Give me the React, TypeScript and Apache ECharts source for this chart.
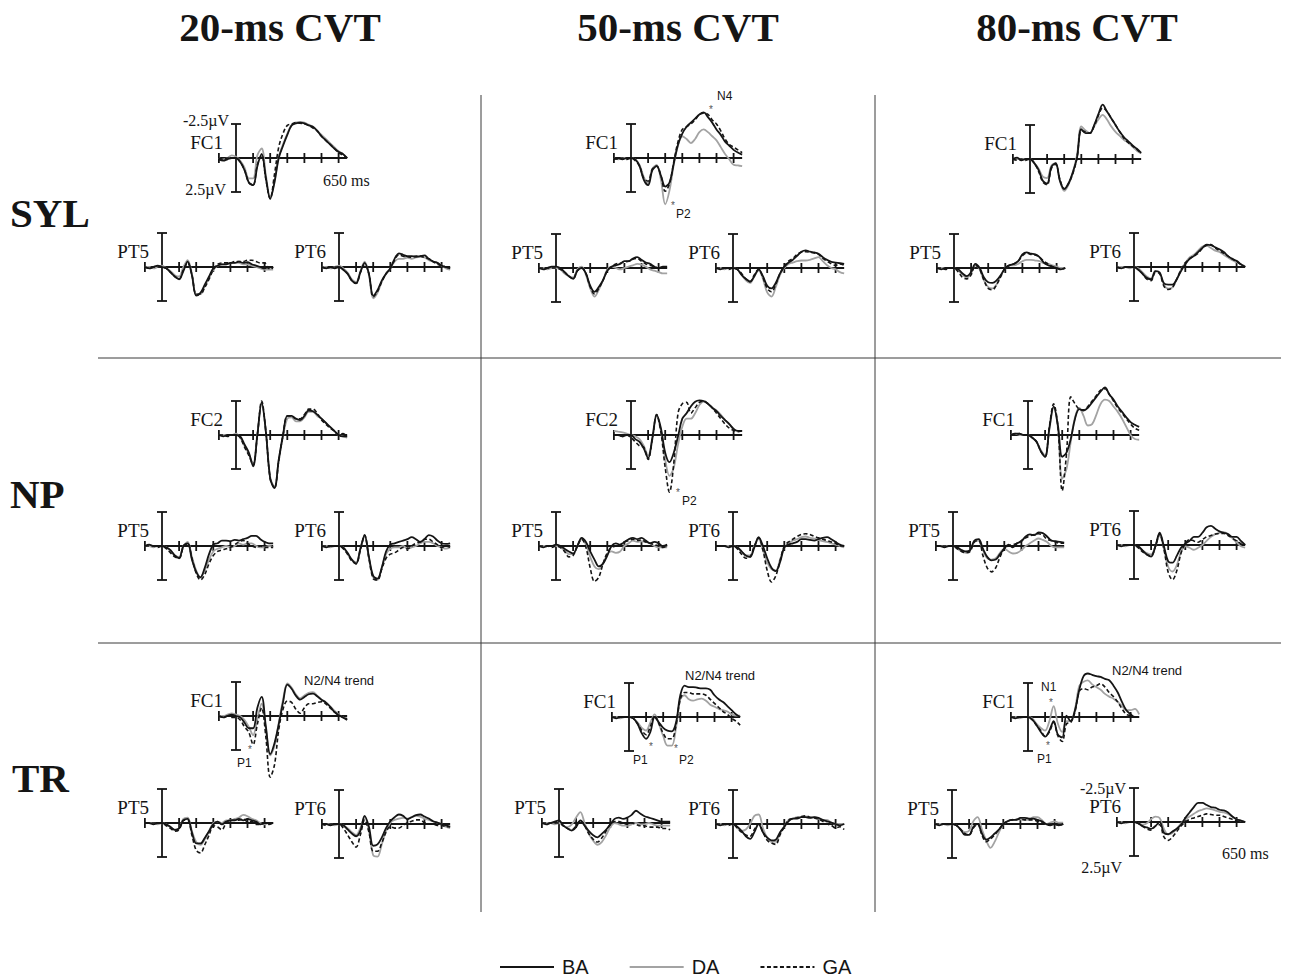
import React, { useEffect, useRef } from "react";
import * as echarts from "echarts";

// ---- axes / labels ----
const TIMES = [-100, -75, -50, -25, 0, 25, 50, 75, 100, 125, 150, 175, 200, 225, 250, 275, 300, 325, 350, 375, 400, 425, 450, 475, 500, 525, 550, 575, 600, 625, 650];
const TICKS = [-100, 100, 200, 300, 400, 500, 600];
const CONDITIONS = ["20-ms CVT", "50-ms CVT", "80-ms CVT"];
const TASKS = ["SYL", "NP", "TR"];
const GROUPS = ["BA", "DA", "GA"];

// ---- SYL, 20-ms ----
const SYL20_FC1_BA = [0.1,0.2,0.1,0.0,0.0, 0.3,0.9,1.8,2.0,0.6, -0.3,1.5,3.0,1.8,0.0, -0.9,-1.7,-2.4,-2.55,-2.6, -2.55,-2.4,-2.3,-2.0,-1.6, -1.3,-1.0,-0.7,-0.45,-0.3, 0.0];
const SYL20_FC1_DA = [0.0,0.1,0.0,-0.2,-0.1, 0.2,0.7,1.5,1.5,-0.2, -0.7,1.3,2.9,1.7,-0.1, -1.0,-1.8,-2.4,-2.6,-2.65, -2.6,-2.45,-2.3,-2.0,-1.7, -1.4,-1.1,-0.8,-0.5,-0.3, 0.0];
const SYL20_FC1_GA = [0.0,0.1,0.0,0.0,0.0, 0.3,0.9,1.8,2.0,0.5, -0.2,1.6,3.0,1.2,-0.8, -1.8,-2.4,-2.5,-2.6,-2.55, -2.5,-2.4,-2.2,-2.0,-1.6, -1.3,-1.0,-0.7,-0.4,-0.2, 0.0];
const SYL20_PT5_BA = [0.0,0.1,0.0,-0.1,0.0, 0.1,0.4,0.7,0.9,0.3, -0.4,0.6,2.1,1.9,1.3, 0.7,0.1,-0.1,-0.2,-0.2, -0.3,-0.3,-0.4,-0.3,-0.35, -0.2,-0.1,0.0,0.1,0.0, 0.1];
const SYL20_PT5_DA = [0.0,0.0,0.1,0.0,-0.1, 0.1,0.3,0.6,0.7,0.0, -0.5,0.5,2.0,2.0,1.4, 0.8,0.2,-0.1,-0.2,-0.2, -0.3,-0.3,-0.3,-0.2,-0.2, -0.1,0.0,0.1,0.2,0.2, 0.2];
const SYL20_PT5_GA = [0.0,0.1,0.0,0.0,0.0, 0.1,0.4,0.7,0.9,0.2, -0.3,0.6,2.0,2.0,1.5, 0.9,0.2,-0.2,-0.3,-0.3, -0.3,-0.4,-0.4,-0.4,-0.5, -0.5,-0.4,-0.3,-0.3,0.1, 0.0];
const SYL20_PT6_BA = [0.0,0.1,0.0,0.1,0.0, 0.2,0.5,1.0,1.2,0.4, -0.3,0.5,2.1,1.7,1.0, 0.5,0.1,-0.6,-1.0,-0.9, -0.8,-0.8,-0.75,-0.8,-0.85, -0.6,-0.4,-0.3,-0.1,0.0, 0.1];
const SYL20_PT6_DA = [0.0,0.0,0.1,0.0,-0.1, 0.1,0.4,0.9,1.1,0.3, -0.4,0.6,2.3,1.9,1.1, 0.5,0.1,-0.4,-0.6,-0.6, -0.7,-0.6,-0.7,-0.75,-0.7, -0.5,-0.4,-0.3,-0.1,0.1, 0.2];
const SYL20_PT6_GA = [0.0,0.1,0.0,0.0,0.0, 0.2,0.5,1.0,1.2,0.4, -0.2,0.5,2.2,1.8,1.1, 0.5,0.1,-0.5,-0.9,-0.8, -0.75,-0.7,-0.8,-0.8,-0.7, -0.6,-0.4,-0.2,-0.1,0.0, 0.1];

// ---- SYL, 50-ms ----
const SYL50_FC1_BA = [0.1,0.0,0.1,0.0,0.0, 0.1,0.6,1.6,2.0,0.9, 0.6,1.3,2.1,1.8,0.4, -1.0,-1.8,-2.3,-2.6,-2.9, -3.2,-3.35,-3.0,-2.6,-2.1, -1.7,-1.2,-0.9,-0.6,-0.4, -0.25];
const SYL50_FC1_DA = [0.0,0.1,0.0,0.0,0.0, 0.1,0.5,1.4,1.85,0.8, 0.5,1.6,3.4,2.4,0.5, -0.9,-1.6,-1.4,-1.1,-1.4, -1.9,-2.1,-1.9,-1.6,-1.3, -0.8,-0.3,0.1,0.5,0.55, 0.6];
const SYL50_FC1_GA = [0.0,0.1,0.0,0.1,0.0, 0.2,0.6,1.5,1.7,0.8, 0.6,1.3,2.45,1.9,0.3, -1.2,-2.1,-2.3,-2.5,-2.8, -3.2,-3.3,-3.2,-2.8,-2.5, -2.0,-1.4,-1.0,-0.8,-0.6, -0.4];
const SYL50_PT5_BA = [0.0,0.1,0.0,-0.1,-0.1, 0.0,0.3,0.6,0.8,0.2, 0.0,0.4,1.3,1.75,1.4, 0.9,0.2,-0.1,-0.2,-0.3, -0.5,-0.5,-0.7,-0.8,-0.6, -0.4,-0.3,-0.1,0.0,-0.1, -0.1];
const SYL50_PT5_DA = [0.0,0.0,0.1,0.0,0.0, 0.1,0.4,0.6,0.7,0.1, -0.1,0.5,1.5,2.1,1.6, 0.9,0.1,-0.1,0.0,0.1, 0.0,-0.1,-0.2,-0.3,-0.25, -0.1,0.1,0.2,0.3,0.4, 0.4];
const SYL50_PT5_GA = [0.0,0.0,0.0,0.0,0.0, 0.1,0.3,0.6,0.8,0.2, 0.0,0.4,1.4,1.9,1.5, 0.9,0.2,-0.1,-0.3,-0.35, -0.45,-0.5,-0.65,-0.7,-0.5, -0.3,-0.2,-0.1,0.0,0.0, 0.0];
const SYL50_PT6_BA = [0.0,0.1,0.0,0.0,0.0, 0.1,0.5,0.8,1.0,0.6, 0.1,0.6,1.3,1.5,1.1, 0.4,-0.1,-0.4,-0.6,-0.9, -1.2,-1.3,-1.2,-1.15,-1.05, -0.8,-0.6,-0.45,-0.4,-0.35, -0.3];
const SYL50_PT6_DA = [0.0,0.0,0.1,0.0,0.0, 0.1,0.5,0.9,1.1,0.6, 0.2,0.8,1.8,2.1,1.4, 0.5,0.0,-0.3,-0.4,-0.5, -0.55,-0.55,-0.6,-0.7,-0.8, -0.5,-0.2,0.0,0.1,0.3, 0.4];
const SYL50_PT6_GA = [0.0,0.0,0.0,0.1,0.0, 0.1,0.4,0.8,1.0,0.5, 0.1,0.7,1.5,1.75,1.2, 0.4,-0.1,-0.5,-0.7,-1.0, -1.15,-1.2,-1.15,-1.1,-1.0, -0.7,-0.5,-0.3,-0.2,-0.3, -0.2];

// ---- SYL, 80-ms ----
const SYL80_FC1_BA = [0.0,-0.1,0.1,0.0,0.0, 0.3,0.8,1.6,1.8,0.6, 0.3,1.6,2.2,1.8,1.0, -0.1,-2.2,-1.9,-1.9,-2.5, -3.3,-4.0,-3.5,-3.0,-2.5, -2.0,-1.6,-1.3,-1.0,-0.75, -0.45];
const SYL80_FC1_DA = [0.0,0.0,0.0,0.0,0.0, 0.3,0.7,1.3,1.4,0.5, 0.3,1.6,2.35,1.9,1.0, -0.3,-2.4,-2.1,-1.9,-2.4, -2.9,-3.25,-2.9,-2.4,-2.0, -1.7,-1.4,-1.2,-0.9,-0.6, -0.4];
const SYL80_FC1_GA = [0.0,0.1,0.0,0.1,0.0, 0.3,0.9,1.7,1.9,0.7, 0.4,1.5,2.2,1.8,1.1, -0.1,-2.1,-2.0,-1.9,-2.4, -3.2,-3.75,-3.5,-3.0,-2.5, -2.0,-1.5,-1.2,-0.95,-0.7, -0.4];
const SYL80_PT5_BA = [0.0,0.1,0.0,0.0,0.0, 0.1,0.4,0.6,0.3,-0.3, 0.0,0.7,1.05,1.1,0.9, 0.5,0.0,-0.2,-0.3,-0.5, -1.0,-1.15,-1.05,-1.0,-0.8, -0.4,-0.2,-0.1,0.0,0.1, 0.0];
const SYL80_PT5_DA = [0.0,0.0,0.0,0.0,0.0, 0.2,0.5,0.7,0.4,-0.2, 0.1,0.9,1.4,1.5,1.2, 0.5,0.0,-0.2,-0.2,-0.3, -0.5,-0.6,-0.6,-0.55,-0.5, -0.35,-0.3,-0.2,-0.1,0.0, 0.0];
const SYL80_PT5_GA = [0.0,0.0,0.1,0.0,0.0, 0.3,0.7,0.8,0.5,-0.2, 0.1,0.9,1.5,1.6,1.2, 0.6,0.0,-0.2,-0.3,-0.5, -0.9,-1.1,-1.0,-0.95,-0.8, -0.5,-0.3,-0.1,0.0,0.1, 0.0];
const SYL80_PT6_BA = [0.0,0.1,0.0,0.0,0.0, 0.2,0.5,0.8,0.9,0.3, 0.4,1.2,1.3,1.3,0.9, 0.3,-0.2,-0.6,-0.8,-1.1, -1.4,-1.65,-1.6,-1.45,-1.3, -1.1,-0.8,-0.6,-0.45,-0.2, 0.0];
const SYL80_PT6_DA = [0.0,0.0,0.0,0.1,0.0, 0.1,0.4,0.7,0.85,0.3, 0.4,1.3,1.6,1.5,0.9, 0.2,-0.3,-0.7,-0.9,-1.2, -1.5,-1.55,-1.4,-1.2,-1.1, -0.9,-0.7,-0.5,-0.35,-0.2, -0.05];
const SYL80_PT6_GA = [0.0,0.1,0.0,0.0,0.0, 0.2,0.5,0.9,1.0,0.4, 0.5,1.4,1.65,1.5,0.9, 0.2,-0.3,-0.6,-0.8,-1.0, -1.4,-1.6,-1.65,-1.4,-1.2, -1.0,-0.8,-0.6,-0.4,-0.2, 0.0];

// ---- NP, 20-ms ----
const NP20_FC2_BA = [0.0,0.1,0.0,0.0,0.0, 0.1,0.7,1.3,2.3,0.0, -2.4,-0.2,3.2,3.9,1.8, 0.0,-1.4,-1.4,-1.2,-1.1, -1.4,-1.8,-1.75,-1.5,-1.2, -0.9,-0.6,-0.3,0.0,0.1, 0.1];
const NP20_FC2_DA = [0.0,0.0,0.0,0.0,-0.1, 0.2,0.8,1.4,2.1,-0.1, -2.3,-0.2,3.1,3.8,1.9, 0.1,-1.2,-1.3,-1.0,-1.0, -1.3,-1.7,-1.7,-1.4,-1.2, -0.9,-0.6,-0.3,0.0,0.1, 0.2];
const NP20_FC2_GA = [0.0,0.0,0.1,0.0,0.0, 0.2,0.9,1.5,2.2,0.0, -2.5,-0.2,3.2,3.9,1.9, 0.0,-1.4,-1.4,-1.2,-1.2, -1.5,-1.9,-1.9,-1.6,-1.1, -0.8,-0.5,-0.3,0.0,-0.1, 0.1];
const NP20_PT5_BA = [0.0,-0.1,0.0,0.0,0.0, 0.1,0.3,0.7,0.9,0.0, -0.2,1.0,1.9,2.3,1.6, 0.6,-0.1,-0.2,-0.4,-0.4, -0.35,-0.45,-0.4,-0.5,-0.6, -0.75,-0.75,-0.5,-0.3,-0.2, -0.2];
const NP20_PT5_DA = [0.0,0.0,0.1,0.0,0.0, 0.1,0.4,0.7,0.8,0.0, -0.3,0.8,1.8,2.3,1.8, 1.0,0.4,0.2,0.1,0.0, 0.1,0.0,-0.2,-0.1,-0.2, -0.2,0.0,0.1,0.1,0.0, 0.1];
const NP20_PT5_GA = [0.0,0.0,0.0,0.1,0.0, 0.2,0.5,0.8,0.9,0.1, -0.2,0.9,2.0,2.5,2.1, 1.3,0.7,0.4,0.3,0.2, 0.1,-0.1,-0.3,-0.4,-0.2, 0.0,0.1,0.0,0.1,0.1, 0.1];
const NP20_PT6_BA = [0.0,0.1,0.0,0.0,0.0, 0.1,0.5,1.0,1.3,0.2, -0.8,0.8,2.2,2.4,1.6, 0.4,-0.1,-0.2,-0.3,-0.4, -0.5,-0.65,-0.5,-0.3,-0.5, -0.8,-0.7,-0.4,-0.2,-0.15, -0.2];
const NP20_PT6_DA = [0.0,0.0,0.1,0.0,0.0, 0.1,0.6,1.0,1.2,0.2, -0.7,0.9,2.3,2.5,1.6, 0.6,0.2,0.1,0.1,0.0, 0.2,0.1,0.0,-0.2,-0.3, -0.3,-0.2,0.0,0.1,0.2, 0.1];
const NP20_PT6_GA = [0.0,0.0,0.0,0.0,0.0, 0.2,0.6,1.1,1.3,0.3, -0.8,0.9,2.4,2.5,1.7, 0.9,0.6,0.5,0.3,0.1, 0.2,0.0,-0.2,-0.3,-0.5, -0.5,-0.3,-0.1,0.1,0.0, 0.1];

// ---- NP, 50-ms ----
const NP50_FC2_BA = [0.0,0.0,0.1,0.0,0.0, 0.3,0.5,1.0,1.7,0.2, -1.5,-0.5,1.3,2.0,1.3, 0.1,-1.2,-1.6,-2.1,-2.45, -2.55,-2.5,-2.3,-2.0,-1.75, -1.4,-1.1,-0.8,-0.45,-0.3, -0.3];
const NP50_FC2_DA = [-0.3,-0.25,-0.2,-0.1,0.0, 0.1,0.3,0.8,1.5,0.3, -1.4,-0.3,1.8,3.0,2.4, 0.7,-0.6,-1.2,-1.2,-1.6, -2.2,-2.45,-2.3,-2.0,-1.8, -1.5,-1.1,-0.8,-0.45,-0.3, -0.3];
const NP50_FC2_GA = [0.0,0.0,0.1,0.0,0.2, 0.5,0.8,0.9,1.8,0.3, -1.5,-0.2,2.4,4.2,2.1, -1.6,-2.3,-2.4,-1.6,-2.0, -2.4,-2.5,-2.3,-2.0,-1.6, -1.2,-0.8,-0.5,-0.35,-0.25, -0.3];
const NP50_PT5_BA = [0.0,0.1,0.0,0.0,-0.1, 0.0,0.2,0.4,0.55,0.0, -0.6,-0.3,0.4,1.0,1.5, 1.3,0.7,0.0,-0.2,-0.1, -0.3,-0.5,-0.6,-0.5,-0.6, -0.4,-0.2,-0.3,-0.2,0.0, -0.1];
const NP50_PT5_DA = [0.0,0.0,0.0,0.0,0.0, 0.1,0.3,0.6,0.6,0.0, -0.5,-0.1,0.8,1.5,1.7, 1.3,0.6,0.4,0.5,0.4, 0.0,-0.2,-0.4,-0.3,-0.35, -0.3,-0.2,0.0,0.1,0.1, 0.1];
const NP50_PT5_GA = [0.0,0.0,0.0,0.1,0.0, 0.1,0.4,0.8,0.7,0.0, -0.5,0.1,1.6,2.6,2.3, 1.3,0.5,0.1,0.0,-0.1, -0.3,-0.4,-0.5,-0.4,-0.45, -0.3,-0.2,-0.1,0.0,0.1, 0.0];
const NP50_PT6_BA = [0.0,0.0,0.0,0.1,0.0, 0.1,0.4,0.7,0.8,0.1, -0.65,0.0,0.9,1.6,1.85, 1.2,0.1,-0.1,-0.2,-0.3, -0.5,-0.5,-0.45,-0.4,-0.5, -0.6,-0.65,-0.5,-0.3,-0.1, 0.0];
const NP50_PT6_DA = [0.0,0.0,0.0,0.0,0.0, 0.1,0.4,0.7,0.7,0.0, -0.5,0.3,1.2,1.7,1.8, 1.0,0.1,-0.2,-0.4,-0.5, -0.65,-0.7,-0.6,-0.55,-0.45, -0.35,-0.3,-0.2,-0.1,0.0, 0.1];
const NP50_PT6_GA = [0.0,0.0,0.0,0.0,0.0, 0.2,0.6,0.9,0.8,0.0, -0.6,0.3,1.8,2.65,2.2, 1.1,0.0,-0.3,-0.5,-0.7, -0.85,-0.9,-0.85,-0.7,-0.6, -0.5,-0.4,-0.3,-0.2,0.0, 0.0];

// ---- NP, 80-ms ----
const NP80_FC1_BA = [0.0,-0.1,-0.1,0.0,0.0, 0.2,0.5,1.2,1.6,-0.5, -2.1,-0.7,1.6,1.3,0.3, -1.2,-1.9,-1.8,-2.0,-2.4, -2.8,-3.2,-3.5,-3.0,-2.6, -2.1,-1.7,-1.3,-0.95,-0.75, -0.6];
const NP80_FC1_DA = [0.0,-0.1,0.0,0.0,0.0, 0.2,0.5,1.1,1.5,-0.4, -2.0,-0.5,3.2,2.5,0.5, -1.3,-2.0,-1.4,-0.7,-0.8, -1.5,-2.3,-2.6,-2.5,-2.1, -1.7,-1.2,-0.6,0.0,0.3, 0.35];
const NP80_FC1_GA = [0.0,0.0,-0.1,0.0,0.0, 0.2,0.5,1.2,1.6,-0.6, -2.3,-0.6,4.1,1.4,-2.8, -2.3,-1.9,-1.85,-2.1,-2.5, -2.9,-3.3,-3.4,-3.0,-2.5, -2.0,-1.6,-1.2,-0.8,-0.5, -0.35];
const NP80_PT5_BA = [0.0,0.0,0.1,0.0,0.0, 0.1,0.3,0.4,0.3,-0.4, -0.5,0.2,0.8,1.05,1.0, 0.6,0.2,-0.1,0.1,-0.2, -0.35,-0.7,-0.85,-0.8,-1.0, -0.95,-0.7,-0.4,-0.35,-0.3, -0.25];
const NP80_PT5_DA = [0.0,0.0,0.0,0.0,0.0, 0.2,0.4,0.5,0.3,-0.3, -0.4,0.3,0.9,1.0,0.9, 0.5,0.2,0.4,0.55,0.5, 0.3,0.0,-0.2,-0.4,-0.55, -0.45,-0.3,0.0,0.1,0.1, 0.1];
const NP80_PT5_GA = [0.0,0.0,0.0,0.0,0.0, 0.2,0.4,0.5,0.4,-0.3, -0.4,0.7,1.6,1.9,1.6, 0.8,0.2,0.0,-0.1,-0.2, -0.4,-0.6,-0.75,-0.85,-0.9, -0.8,-0.5,-0.4,-0.3,-0.2, -0.2];
const NP80_PT6_BA = [0.0,0.1,0.0,0.0,0.0, 0.1,0.4,0.7,0.85,0.1, -0.9,0.1,1.2,1.3,0.8, 0.2,-0.1,-0.3,-0.6,-0.6, -0.9,-1.3,-1.4,-1.2,-1.0, -0.9,-0.8,-0.6,-0.6,-0.3, 0.0];
const NP80_PT6_DA = [0.0,0.0,0.1,0.0,0.0, 0.2,0.4,0.6,0.7,0.1, -0.7,0.3,1.6,1.95,1.5, 0.5,0.1,0.2,0.35,0.2, 0.0,-0.3,-0.6,-0.8,-0.9, -0.95,-0.8,-0.5,-0.2,0.1, 0.2];
const NP80_PT6_GA = [0.0,0.0,0.0,0.0,0.0, 0.2,0.5,0.7,0.8,0.1, -0.8,0.3,2.0,2.55,1.9, 0.6,-0.1,-0.4,-0.3,-0.2, -0.4,-0.6,-0.7,-0.8,-0.85, -0.85,-0.7,-0.5,-0.3,-0.1, 0.0];

// ---- TR, 20-ms ----
const TR20_FC1_BA = [0.0,0.1,0.0,-0.1,0.0, 0.1,0.5,0.9,0.9,-0.6, -1.4,0.8,2.8,2.0,0.6, -1.0,-2.3,-2.0,-1.5,-1.2, -1.4,-1.6,-1.65,-1.45,-1.2, -1.0,-0.7,-0.3,-0.05,0.1, 0.3];
const TR20_FC1_DA = [0.0,0.0,-0.1,-0.2,-0.1, 0.0,0.3,0.8,1.4,0.2, -0.9,1.0,2.9,2.2,0.5, -1.2,-2.4,-2.1,-1.6,-1.3, -1.5,-1.7,-1.75,-1.5,-1.2, -1.0,-0.7,-0.4,-0.1,0.1, 0.2];
const TR20_FC1_GA = [0.0,0.1,0.0,0.1,0.1, 0.3,0.8,1.2,2.1,0.6, -0.6,1.6,4.5,3.6,1.0, -0.5,-1.1,-1.0,-0.5,-0.2, -0.6,-0.9,-0.9,-1.0,-1.05, -0.9,-0.6,-0.3,-0.1,0.1, 0.2];
const TR20_PT5_BA = [0.0,0.0,0.1,0.0,0.0, 0.1,0.3,0.5,0.4,-0.2, -0.3,0.7,1.5,1.5,1.1, 0.6,0.1,-0.1,0.1,-0.1, -0.2,-0.2,-0.3,-0.2,-0.3, -0.2,-0.1,0.1,0.0,0.0, 0.0];
const TR20_PT5_DA = [0.0,0.0,0.0,0.1,0.0, 0.1,0.3,0.5,0.4,-0.3, -0.4,0.6,1.4,1.6,1.2, 0.6,0.0,-0.1,0.0,-0.2, -0.2,-0.3,-0.4,-0.6,-0.5, -0.3,-0.2,0.0,0.1,0.0, 0.0];
const TR20_PT5_GA = [0.0,0.0,0.0,0.0,0.0, 0.2,0.4,0.6,0.5,-0.2, -0.2,0.9,2.0,2.2,1.6, 0.9,0.2,0.3,0.5,0.0, -0.2,-0.2,-0.2,-0.3,-0.1, -0.1,0.1,0.1,0.0,0.1, 0.0];
const TR20_PT6_BA = [0.0,0.0,0.1,0.0,0.0, 0.1,0.4,0.7,0.9,0.5, -0.6,0.2,1.6,1.5,1.0, 0.3,-0.2,-0.5,-0.7,-0.6, -0.35,-0.5,-0.65,-0.7,-0.55, -0.4,-0.2,-0.1,0.0,0.1, 0.2];
const TR20_PT6_DA = [0.0,0.0,0.0,0.1,0.0, 0.1,0.3,0.6,0.8,0.3, -0.5,0.5,2.3,2.4,1.5, 0.5,-0.1,-0.3,-0.4,-0.45, -0.4,-0.5,-0.6,-0.55,-0.4, -0.3,-0.2,-0.1,0.0,0.2, 0.3];
const TR20_PT6_GA = [0.0,0.1,0.0,0.0,0.0, 0.3,0.8,1.3,1.7,0.8, -0.3,0.6,2.0,2.0,1.4, 0.6,0.2,0.3,0.3,0.1, -0.1,-0.2,-0.3,-0.3,-0.1, 0.0,0.0,0.1,0.1,0.2, 0.2];

// ---- TR, 50-ms ----
const TR50_FC1_BA = [0.0,0.1,0.0,0.0,0.0, 0.1,0.5,1.2,1.6,1.1, 0.0,0.4,0.8,1.0,1.05, 0.4,-1.6,-2.3,-2.2,-2.2, -2.15,-2.1,-2.1,-2.0,-1.6, -1.3,-1.1,-0.8,-0.5,-0.2, 0.0];
const TR50_FC1_DA = [0.0,0.0,0.1,0.0,0.0, 0.1,0.4,0.8,1.0,0.4, -0.2,0.5,1.4,2.1,2.1, 0.8,-1.3,-1.6,-1.3,-1.2, -1.3,-1.35,-1.2,-0.9,-0.75, -0.6,-0.5,-0.4,-0.2,-0.1, -0.1];
const TR50_FC1_GA = [0.0,0.0,0.0,0.0,0.0, 0.1,0.5,1.0,1.3,0.7, -0.1,0.5,1.2,1.6,1.6, 0.6,-1.3,-1.8,-1.8,-1.7, -1.7,-1.7,-1.6,-1.3,-1.0, -0.7,-0.4,-0.2,0.1,0.3, 0.6];
const TR50_PT5_BA = [0.0,0.1,0.0,-0.1,-0.2, 0.2,0.4,0.55,0.3,-0.2, 0.2,0.6,0.9,1.05,0.8, 0.5,0.1,-0.3,-0.4,-0.3, -0.4,-0.6,-0.9,-0.7,-0.5, -0.4,-0.3,-0.2,-0.1,-0.1, -0.1];
const TR50_PT5_DA = [0.0,0.0,0.0,0.1,0.0, 0.2,0.3,0.1,-0.4,-0.8, 0.0,0.8,1.3,1.6,1.4, 0.9,0.3,0.0,0.1,0.2, 0.2,0.1,0.0,0.1,0.1, 0.0,0.1,0.2,0.2,0.2, 0.2];
const TR50_PT5_GA = [0.0,0.0,0.0,0.0,0.0, 0.2,0.4,0.5,0.2,-0.2, 0.2,0.8,1.2,1.4,1.1, 0.6,0.1,-0.1,-0.1,0.0, 0.1,0.0,0.1,0.2,0.2, 0.3,0.3,0.3,0.4,0.4, 0.5];
const TR50_PT6_BA = [0.0,0.1,0.0,0.0,0.0, 0.2,0.5,0.9,1.1,0.6, 0.0,0.6,1.0,1.2,1.15, 0.6,0.2,-0.2,-0.4,-0.4, -0.5,-0.5,-0.45,-0.5,-0.45, -0.3,-0.2,-0.1,0.0,0.1, 0.0];
const TR50_PT6_DA = [0.0,0.0,0.1,0.0,0.0, 0.3,0.5,0.4,0.0,-0.6, -0.7,0.3,1.0,1.3,1.3, 0.7,0.2,-0.3,-0.4,-0.5, -0.5,-0.55,-0.5,-0.5,-0.4, -0.3,-0.3,-0.1,0.0,0.0, 0.0];
const TR50_PT6_GA = [0.0,0.0,0.0,0.1,0.0, 0.3,0.6,0.8,0.9,0.4, 0.0,0.6,1.2,1.4,1.5, 0.8,0.2,-0.3,-0.4,-0.45, -0.55,-0.6,-0.5,-0.45,-0.35, -0.2,0.0,0.1,0.3,0.2, 0.4];

// ---- TR, 80-ms ----
const TR80_FC1_BA = [0.0,0.1,0.0,0.0,0.0, 0.2,0.6,1.1,1.45,1.0, 0.3,1.3,1.5,-0.1,0.3, -0.5,-2.0,-3.0,-3.2,-3.1, -3.0,-2.95,-2.8,-2.7,-2.3, -1.8,-1.1,-0.5,-0.2,0.0, 0.0];
const TR80_FC1_DA = [0.0,0.0,0.1,0.0,0.0, 0.1,0.5,0.8,1.0,0.3, -0.8,0.5,1.1,0.3,0.3, -0.6,-2.3,-2.6,-2.7,-2.4, -2.2,-2.0,-1.7,-1.5,-1.35, -1.1,-0.8,-0.5,-0.5,-0.6, -0.2];
const TR80_FC1_GA = [0.0,0.0,0.0,0.0,0.0, 0.2,0.6,1.0,1.4,1.1, 0.4,1.4,1.8,0.5,0.4, -0.4,-1.9,-2.1,-2.0,-2.2, -2.3,-2.45,-2.2,-1.8,-1.5, -1.1,-0.6,-0.2,-0.1,0.0, 0.0];
const TR80_PT5_BA = [0.0,0.1,0.0,0.0,0.0, 0.1,0.4,0.8,0.8,0.2, 0.0,0.7,1.15,1.0,0.7, 0.4,0.0,-0.2,-0.3,-0.3, -0.45,-0.45,-0.4,-0.4,-0.3, -0.2,0.0,0.1,0.0,0.1, 0.0];
const TR80_PT5_DA = [0.0,0.0,0.0,0.1,0.0, 0.1,0.4,0.6,0.5,-0.2, -0.5,0.4,1.2,1.75,1.3, 0.6,0.0,-0.2,-0.3,-0.3, -0.35,-0.3,-0.3,-0.5,-0.5, -0.3,0.0,-0.1,-0.2,-0.1, -0.1];
const TR80_PT5_GA = [0.0,0.0,0.0,0.0,0.0, 0.1,0.4,0.7,0.8,0.3, 0.0,0.8,1.3,1.1,0.8, 0.4,0.0,-0.2,-0.3,-0.35, -0.35,-0.3,-0.3,-0.3,-0.2, -0.1,0.0,0.0,0.0,0.1, 0.0];
const TR80_PT6_BA = [0.0,0.1,0.0,0.0,0.0, 0.1,0.3,0.4,0.5,0.3, 0.0,0.8,0.9,0.7,0.5, 0.2,-0.3,-0.7,-1.1,-1.4, -1.4,-1.25,-1.1,-1.05,-0.9, -0.85,-0.7,-0.4,-0.2,-0.1, 0.0];
const TR80_PT6_DA = [0.0,0.0,0.1,0.0,0.0, 0.1,0.2,0.1,-0.2,-0.4, -0.3,0.5,0.9,0.8,0.5, 0.1,-0.2,-0.4,-0.6,-0.8, -0.9,-1.0,-0.95,-0.85,-0.75, -0.7,-0.6,-0.4,-0.2,-0.1, 0.0];
const TR80_PT6_GA = [0.0,0.0,0.0,0.0,0.0, 0.1,0.3,0.5,0.6,0.3, 0.2,1.1,1.35,1.1,0.7, 0.3,0.0,-0.2,-0.3,-0.4, -0.5,-0.6,-0.55,-0.5,-0.5, -0.4,-0.3,-0.2,-0.1,0.0, 0.0];

// plots: [task index, condition index, channel, BA, DA, GA]
const PLOTS: any[] = [
  [0, 0, "FC1", SYL20_FC1_BA, SYL20_FC1_DA, SYL20_FC1_GA],
  [0, 0, "PT5", SYL20_PT5_BA, SYL20_PT5_DA, SYL20_PT5_GA],
  [0, 0, "PT6", SYL20_PT6_BA, SYL20_PT6_DA, SYL20_PT6_GA],
  [0, 1, "FC1", SYL50_FC1_BA, SYL50_FC1_DA, SYL50_FC1_GA],
  [0, 1, "PT5", SYL50_PT5_BA, SYL50_PT5_DA, SYL50_PT5_GA],
  [0, 1, "PT6", SYL50_PT6_BA, SYL50_PT6_DA, SYL50_PT6_GA],
  [0, 2, "FC1", SYL80_FC1_BA, SYL80_FC1_DA, SYL80_FC1_GA],
  [0, 2, "PT5", SYL80_PT5_BA, SYL80_PT5_DA, SYL80_PT5_GA],
  [0, 2, "PT6", SYL80_PT6_BA, SYL80_PT6_DA, SYL80_PT6_GA],
  [1, 0, "FC2", NP20_FC2_BA, NP20_FC2_DA, NP20_FC2_GA],
  [1, 0, "PT5", NP20_PT5_BA, NP20_PT5_DA, NP20_PT5_GA],
  [1, 0, "PT6", NP20_PT6_BA, NP20_PT6_DA, NP20_PT6_GA],
  [1, 1, "FC2", NP50_FC2_BA, NP50_FC2_DA, NP50_FC2_GA],
  [1, 1, "PT5", NP50_PT5_BA, NP50_PT5_DA, NP50_PT5_GA],
  [1, 1, "PT6", NP50_PT6_BA, NP50_PT6_DA, NP50_PT6_GA],
  [1, 2, "FC1", NP80_FC1_BA, NP80_FC1_DA, NP80_FC1_GA],
  [1, 2, "PT5", NP80_PT5_BA, NP80_PT5_DA, NP80_PT5_GA],
  [1, 2, "PT6", NP80_PT6_BA, NP80_PT6_DA, NP80_PT6_GA],
  [2, 0, "FC1", TR20_FC1_BA, TR20_FC1_DA, TR20_FC1_GA],
  [2, 0, "PT5", TR20_PT5_BA, TR20_PT5_DA, TR20_PT5_GA],
  [2, 0, "PT6", TR20_PT6_BA, TR20_PT6_DA, TR20_PT6_GA],
  [2, 1, "FC1", TR50_FC1_BA, TR50_FC1_DA, TR50_FC1_GA],
  [2, 1, "PT5", TR50_PT5_BA, TR50_PT5_DA, TR50_PT5_GA],
  [2, 1, "PT6", TR50_PT6_BA, TR50_PT6_DA, TR50_PT6_GA],
  [2, 2, "FC1", TR80_FC1_BA, TR80_FC1_DA, TR80_FC1_GA],
  [2, 2, "PT5", TR80_PT5_BA, TR80_PT5_DA, TR80_PT5_GA],
  [2, 2, "PT6", TR80_PT6_BA, TR80_PT6_DA, TR80_PT6_GA],
];

// ---- layout (pixel position of each plot's zero-ms axis and 0 µV baseline) ----
const LAYOUT = [
  [236, 158], [162, 267], [339, 267],
  [631, 158], [556, 268], [733, 268],
  [1030, 159], [954, 268], [1134, 267],
  [236, 435], [162, 546], [339, 546],
  [631, 435], [556, 546], [733, 546],
  [1028, 435], [953, 546], [1134, 545],
  [236, 716], [162, 823], [339, 824],
  [629, 717], [559, 823], [733, 824],
  [1028, 717], [952, 824], [1134, 822],
];
const PX = 0.171; // px per ms
const PY = 13.6; // px per µV
const YMAX = 6;

const SERIF = '"Liberation Serif", "Times New Roman", serif';
const SANS = '"Liberation Sans", Arial, sans-serif';
const GRAY = "#a3a3a3";
const INK = "#151515";

function txt(text: string, x: number, y: number, size: number, align = "left", family = SERIF, weight = "normal", fill = INK) {
  return {
    type: "text",
    x,
    y,
    silent: true,
    style: {
      text,
      fill,
      font: `${weight} ${size}px ${family}`,
      align,
      textAlign: align,
      verticalAlign: "middle",
      textVerticalAlign: "middle",
    },
  };
}

function buildOption() {
  const grid: any[] = [];
  const xAxis: any[] = [];
  const yAxis: any[] = [];
  const series: any[] = [];
  const graphic: any[] = [];

  PLOTS.forEach((p, i) => {
    const [ax, by] = LAYOUT[i];
    grid.push({ left: ax - 100 * PX, top: by - YMAX * PY, width: 750 * PX, height: 2 * YMAX * PY, containLabel: false });
    xAxis.push({ gridIndex: i, type: "value", min: -100, max: 650, show: false });
    yAxis.push({ gridIndex: i, type: "value", min: -YMAX, max: YMAX, inverse: true, show: false });

    // axes drawn through the grid's own scales
    series.push({
      type: "custom",
      xAxisIndex: i,
      yAxisIndex: i,
      silent: true,
      z: 1,
      data: [[0, 0]],
      renderItem: (_params: any, api: any) => {
        const a = api.coord([-100, 0]);
        const b = api.coord([650, 0]);
        const t = api.coord([0, -2.5]);
        const d = api.coord([0, 2.5]);
        const st = { stroke: INK, lineWidth: 1.8 };
        const children: any[] = [
          { type: "line", shape: { x1: a[0], y1: a[1], x2: b[0], y2: b[1] }, style: st },
          { type: "line", shape: { x1: t[0], y1: t[1], x2: d[0], y2: d[1] }, style: st },
          { type: "line", shape: { x1: t[0] - 5, y1: t[1], x2: t[0] + 5, y2: t[1] }, style: st },
          { type: "line", shape: { x1: d[0] - 5, y1: d[1], x2: d[0] + 5, y2: d[1] }, style: st },
        ];
        TICKS.forEach((tk) => {
          const c = api.coord([tk, 0]);
          children.push({ type: "line", shape: { x1: c[0], y1: c[1] - 5, x2: c[0], y2: c[1] + 5 }, style: st });
        });
        return { type: "group", children };
      },
    });

    const mk = (arr: number[]) => TIMES.map((t, k) => [t, arr[k]]);
    const common = { type: "line", xAxisIndex: i, yAxisIndex: i, symbol: "none", showSymbol: false, smooth: 0.35, silent: true };
    series.push({ ...common, name: GROUPS[1], z: 2, data: mk(p[4]), lineStyle: { color: GRAY, width: 1.8 }, itemStyle: { color: GRAY } });
    series.push({ ...common, name: GROUPS[0], z: 3, data: mk(p[3]), lineStyle: { color: INK, width: 1.8 }, itemStyle: { color: INK } });
    series.push({ ...common, name: GROUPS[2], z: 4, data: mk(p[5]), lineStyle: { color: INK, width: 1.6, type: [4, 2.5] }, itemStyle: { color: INK } });

    graphic.push(txt(p[2], ax - 13, by - 16, 19, "right"));
  });

  // column & row headings
  [280, 678, 1077].forEach((x, i) => graphic.push(txt(CONDITIONS[i], x, 27, 41, "center", SERIF, "bold")));
  [[10, 213], [10, 494], [12, 778]].forEach(([x, y], i) => graphic.push(txt(TASKS[i], x, y, 41, "left", SERIF, "bold")));

  // scale labels
  graphic.push(txt("-2.5\u00b5V", 229, 120, 16, "right"));
  graphic.push(txt("2.5\u00b5V", 226, 189, 16, "right"));
  graphic.push(txt("650 ms", 323, 180, 16, "left"));
  graphic.push(txt("-2.5\u00b5V", 1126, 788, 16, "right"));
  graphic.push(txt("2.5\u00b5V", 1122, 867, 16, "right"));
  graphic.push(txt("650 ms", 1222, 853, 16, "left"));

  // annotations
  const ann: [string, number, number][] = [
    ["*", 711, 109], ["N4", 717, 96], ["*", 673, 205], ["P2", 676, 214],
    ["*", 678, 492], ["P2", 682, 501],
    ["N2/N4 trend", 304, 680], ["*", 250, 749], ["P1", 237, 763],
    ["N2/N4 trend", 685, 675], ["*", 651, 746], ["P1", 633, 760], ["*", 676, 748], ["P2", 679, 760],
    ["N2/N4 trend", 1112, 670], ["N1", 1041, 687], ["*", 1051, 702], ["*", 1048, 745], ["P1", 1037, 759],
  ];
  ann.forEach(([s, x, y]) => {
    if (s === "*") graphic.push(txt(s, x, y, 10, "center", SANS, "normal", "#555"));
    else graphic.push(txt(s, x, y, s.length > 2 ? 13 : 12, "left", SANS));
  });

  // panel separators
  const sep = { stroke: "#3a3a3a", lineWidth: 1 };
  graphic.push({ type: "line", silent: true, shape: { x1: 481, y1: 95, x2: 481, y2: 912 }, style: sep });
  graphic.push({ type: "line", silent: true, shape: { x1: 875, y1: 95, x2: 875, y2: 912 }, style: sep });
  graphic.push({ type: "line", silent: true, shape: { x1: 98, y1: 358, x2: 1281, y2: 358 }, style: sep });
  graphic.push({ type: "line", silent: true, shape: { x1: 98, y1: 643, x2: 1281, y2: 643 }, style: sep });

  return {
    animation: false,
    backgroundColor: "#ffffff",
    grid,
    xAxis,
    yAxis,
    series,
    graphic,
    legend: {
      data: GROUPS,
      left: 494,
      top: 952,
      itemWidth: 54,
      itemHeight: 14,
      itemGap: 40,
      selectedMode: false,
      itemStyle: { opacity: 0 },
      textStyle: { fontSize: 20, fontFamily: SANS, color: INK, padding: [0, 0, 0, 3] },
    },
  };
}

export default function App() {
  const ref = useRef<HTMLDivElement>(null);
  useEffect(() => {
    if (!ref.current) return;
    const chart = echarts.init(ref.current, undefined, { renderer: "svg" });
    chart.setOption(buildOption() as any);
    return () => chart.dispose();
  }, []);
  return <div ref={ref} style={{ position: "absolute", left: 0, top: 0, width: 1290, height: 980, background: "#fff" }} />;
}
